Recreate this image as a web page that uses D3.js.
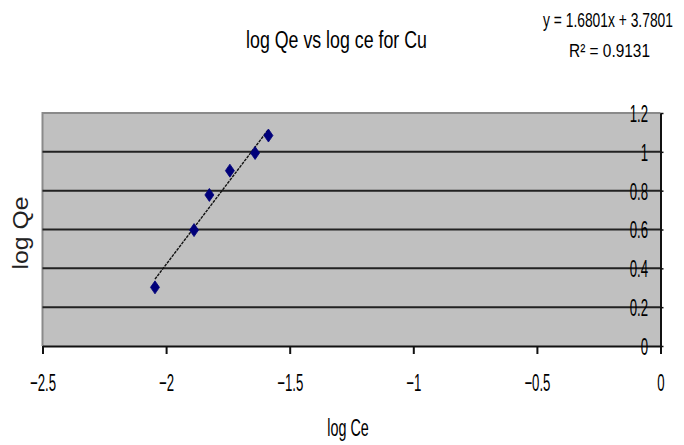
<!DOCTYPE html>
<html>
<head>
<meta charset="utf-8">
<script src="https://cdn.jsdelivr.net/npm/d3@7"></script>
<style>
  html, body { margin: 0; padding: 0; background: #fff; }
  svg { display: block; font-family: "Liberation Sans", Arial, sans-serif; }
</style>
</head>
<body>
<svg id="chart" width="684" height="445"></svg>
<script>
// Freundlich isotherm data for Cu: log Ce vs log Qe
const logCe = [-2.045, -1.887, -1.825, -1.742, -1.640, -1.586];
const logQe = [0.302, 0.597, 0.778, 0.903, 0.994, 1.084];

// Linear trendline fitted to the points
const slope = 1.6801;
const intercept = 3.7801;
const rSquared = 0.9131;

const xTicks = [-2.5, -2, -1.5, -1, -0.5, 0];
const yTicks = [0, 0.2, 0.4, 0.6, 0.8, 1, 1.2];

const titleText = "log Qe vs log ce for Cu";
const xTitleText = "log Ce";
const yTitleText = "log Qe";

const svg = d3.select("#chart");

const plot = { left: 42.5, right: 660.5, top: 113, bottom: 346 };

const x = d3.scaleLinear().domain([-2.5, 0]).range([plot.left, plot.right]);
const y = d3.scaleLinear().domain([0, 1.2]).range([plot.bottom, plot.top]);

// plot area
svg.append("rect")
  .attr("x", plot.left).attr("y", plot.top)
  .attr("width", plot.right - plot.left).attr("height", plot.bottom - plot.top)
  .attr("fill", "#c0c0c0");

// gray frame on the left and top
svg.append("path")
  .attr("d", `M${plot.left},${plot.bottom} V${plot.top} H${plot.right}`)
  .attr("fill", "none").attr("stroke", "#8a8a8a").attr("stroke-width", 2);

// horizontal gridlines
svg.append("g").selectAll("line")
  .data(yTicks.filter(v => v > 0 && v < 1.2))
  .join("line")
  .attr("x1", plot.left).attr("x2", plot.right)
  .attr("y1", d => y(d)).attr("y2", d => y(d))
  .attr("stroke", "#222").attr("stroke-width", 2);

const labelScale = 0.55;

// x axis along y = 0
const xAxis = svg.append("g")
  .attr("transform", `translate(0,${plot.bottom})`)
  .call(d3.axisBottom(x).tickValues(xTicks).tickSize(8).tickSizeOuter(0)
    .tickFormat(d => d3.format("")(d)));
xAxis.select(".domain").attr("stroke", "#111").attr("stroke-width", 2);
xAxis.selectAll(".tick line").attr("stroke", "#111").attr("stroke-width", 2);
xAxis.selectAll(".tick text")
  .attr("y", 45.5).attr("dy", null)
  .attr("font-size", 24).attr("fill", "#000")
  .attr("font-family", "Liberation Sans, Arial, sans-serif")
  .attr("transform", `scale(${labelScale},1)`);

// y axis at x = 0 (right side), labels sit inside the plot area
const yAxis = svg.append("g")
  .attr("transform", `translate(${plot.right},0)`)
  .call(d3.axisRight(y).tickValues(yTicks).tickSize(3).tickSizeOuter(0)
    .tickFormat(d => d3.format("")(d)));
yAxis.select(".domain").attr("stroke", "#111").attr("stroke-width", 2);
yAxis.selectAll(".tick line").attr("stroke", "#111").attr("stroke-width", 1.5);
yAxis.selectAll(".tick text")
  .attr("x", -12.5 / labelScale).attr("dy", "0.35em")
  .attr("text-anchor", "end")
  .attr("font-size", 24).attr("fill", "#000")
  .attr("font-family", "Liberation Sans, Arial, sans-serif")
  .attr("transform", `scale(${labelScale},1)`);

// trendline across the data range
const [xMin, xMax] = d3.extent(logCe);
svg.append("line")
  .attr("x1", x(xMin)).attr("y1", y(slope * xMin + intercept))
  .attr("x2", x(xMax)).attr("y2", y(slope * xMax + intercept))
  .attr("stroke", "#111").attr("stroke-width", 1.4)
  .attr("stroke-dasharray", "3,1");

// diamond markers
const points = logCe.map((v, i) => ({ x: v, y: logQe[i] }));
svg.append("g").selectAll("path")
  .data(points)
  .join("path")
  .attr("transform", d => `translate(${x(d.x)},${y(d.y)})`)
  .attr("d", "M0,-6.5 L4.5,0 L0,6.5 L-4.5,0 Z")
  .attr("fill", "#00007a").attr("stroke", "#00007a").attr("stroke-width", 0.8);

// condensed text: measured, then squeezed horizontally to the wanted width
function addText(str, opts) {
  const g = svg.append("g");
  const t = g.append("text")
    .text(str)
    .attr("font-size", opts.size)
    .attr("fill", opts.fill || "#000")
    .attr("text-anchor", "middle");
  const natural = t.node().getComputedTextLength();
  const sx = opts.width / natural;
  const rot = opts.rotate ? ` rotate(${opts.rotate})` : "";
  g.attr("transform", `translate(${opts.cx},${opts.y})${rot} scale(${sx},1)`);
  return t;
}

addText(titleText, { cx: 336.5, y: 48, size: 24, width: 181 });
addText(`y = ${d3.format(".4f")(slope)}x + ${d3.format(".4f")(intercept)}`,
  { cx: 608, y: 26.5, size: 20, width: 130 });
addText(`R\u00b2 = ${rSquared}`, { cx: 609.5, y: 56.5, size: 19, width: 81 });
addText(xTitleText, { cx: 348, y: 436, size: 24, width: 41.5 });
addText(yTitleText, { cx: 28, y: 233, rotate: -90, size: 22, width: 73, fill: "#222" });
</script>
</body>
</html>
